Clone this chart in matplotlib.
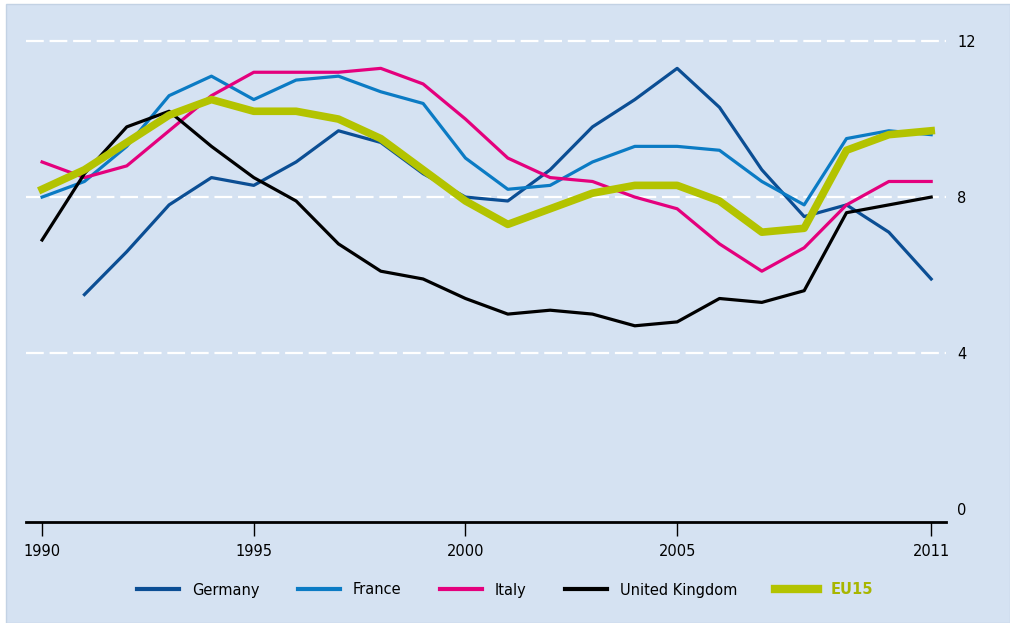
import matplotlib.pyplot as plt
from matplotlib.patches import Rectangle

years = list(range(1990, 2012))

germany = [None, 5.5, 6.6, 7.8, 8.5, 8.3, 8.9, 9.7, 9.4, 8.6, 8.0, 7.9,
           8.7, 9.8, 10.5, 11.3, 10.3, 8.7, 7.5, 7.8, 7.1, 5.9]
france = [8.0, 8.4, 9.3, 10.6, 11.1, 10.5, 11.0, 11.1, 10.7, 10.4, 9.0, 8.2,
          8.3, 8.9, 9.3, 9.3, 9.2, 8.4, 7.8, 9.5, 9.7, 9.6]
italy = [8.9, 8.5, 8.8, 9.7, 10.6, 11.2, 11.2, 11.2, 11.3, 10.9, 10.0, 9.0,
         8.5, 8.4, 8.0, 7.7, 6.8, 6.1, 6.7, 7.8, 8.4, 8.4]
uk = [6.9, 8.6, 9.8, 10.2, 9.3, 8.5, 7.9, 6.8, 6.1, 5.9, 5.4, 5.0,
      5.1, 5.0, 4.7, 4.8, 5.4, 5.3, 5.6, 7.6, 7.8, 8.0]
eu15 = [8.2, 8.7, 9.4, 10.1, 10.5, 10.2, 10.2, 10.0, 9.5, 8.7, 7.9, 7.3,
        7.7, 8.1, 8.3, 8.3, 7.9, 7.1, 7.2, 9.2, 9.6, 9.7]

x_ticks = [1990, 1995, 2000, 2005, 2011]
y_ticks = [0, 4, 8, 12]

bg = '#d5e2f2'
plt.rcParams['font.family'] = ['DejaVu Sans']

fig = plt.figure(figsize=(10.1, 6.23), dpi=100, facecolor='white')
# light panel behind everything
panel = Rectangle((6 / 1010, 0), 1 - 6 / 1010, 1 - 4 / 623,
                  transform=fig.transFigure, facecolor=bg,
                  edgecolor='#c3d2e4', linewidth=1.0, zorder=-10)
fig.patches.append(panel)

ax = fig.add_axes([26 / 1010, 1 - 522 / 623, 920 / 1010, 518 / 623])
ax.set_facecolor('none')
ax.set_zorder(1)

def series(vals):
    xs = [y for y, v in zip(years, vals) if v is not None]
    ys = [v for v in vals if v is not None]
    return xs, ys

ax.plot(*series(germany), color='#0b4e94', lw=2.3, label='Germany', zorder=3)
ax.plot(*series(france), color='#0b7bc4', lw=2.3, label='France', zorder=3)
ax.plot(*series(italy), color='#e4007d', lw=2.3, label='Italy', zorder=3)
ax.plot(*series(uk), color='black', lw=2.3, label='United Kingdom', zorder=3)
ax.plot(*series(eu15), color='#b3c300', lw=5.5, label='EU15', zorder=4)

for t in y_ticks[1:]:
    ax.axhline(t, color='white', lw=1.6, dashes=(8, 2.6), zorder=1)

ax.set_xlim(1989.62, 2011.35)
ax.set_ylim(-0.33, 12.95)

for s in ['top', 'right', 'left']:
    ax.spines[s].set_visible(False)
ax.spines['bottom'].set_linewidth(2.0)
ax.spines['bottom'].set_color('black')

ax.set_xticks(x_ticks)
ax.set_xticklabels([str(t) for t in x_ticks], fontsize=10.5)
ax.tick_params(axis='x', direction='out', length=10, width=1.0, pad=6)

ax.yaxis.tick_right()
ax.set_yticks(y_ticks)
ax.set_yticklabels([str(t) for t in y_ticks], fontsize=10.5)
ax.tick_params(axis='y', length=0, pad=8)

leg = fig.legend(loc='center', bbox_to_anchor=(0.5, 1 - 590 / 623), ncol=5,
                 frameon=False, fontsize=10.5, handlelength=2.9,
                 handletextpad=0.9, columnspacing=2.6)
for txt in leg.get_texts():
    if txt.get_text() == 'EU15':
        txt.set_color('#a8b600')
        txt.set_fontweight('bold')
for h in leg.legend_handles:
    if h.get_label() == 'EU15':
        h.set_linewidth(6)
    else:
        h.set_linewidth(3)

fig.savefig('out.png', dpi=100, facecolor=fig.get_facecolor())
